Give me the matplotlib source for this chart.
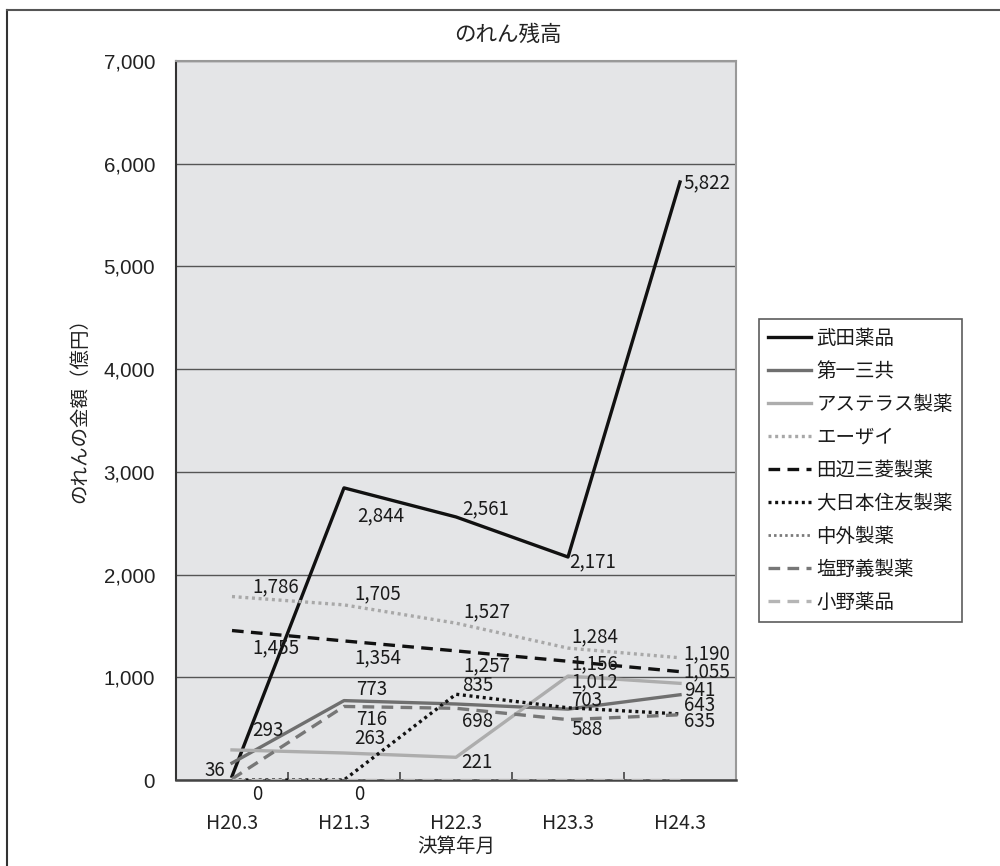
import matplotlib
matplotlib.use('Agg')
import matplotlib.pyplot as plt
from matplotlib.lines import Line2D

plt.rcParams['font.family'] = ['Noto Sans CJK JP', 'DejaVu Sans']

# data (億円)
periods = ['H20.3', 'H21.3', 'H22.3', 'H23.3', 'H24.3']
takeda = [36, 2844, 2561, 2171, 5822]
daiichi = [165, 773, 740, 690, 830]
astellas = [293, 263, 221, 1012, 941]
eisai = [1786, 1705, 1527, 1284, 1190]
tanabe = [1455, 1354, 1257, 1156, 1055]
dainippon = [0, 0, 835, 703, 643]
chugai = [0, 0, 0, 0, 0]
shionogi = [10, 716, 698, 588, 635]
ono = [0, 0, 0, 0, 0]

names = ['武田薬品', '第一三共', 'アステラス製薬', 'エーザイ', '田辺三菱製薬',
         '大日本住友製薬', '中外製薬', '塩野義製薬', '小野薬品']
values = [takeda, daiichi, astellas, eisai, tanabe, dainippon, chugai, shionogi, ono]

DOT = (0, (0.9, 1.1))
DASH = (0, (3.5, 2.2))
styles = [
    dict(color='#111111', ls='-', lw=2.4),
    dict(color='#6f6f6f', ls='-', lw=2.4),
    dict(color='#adadad', ls='-', lw=2.4),
    dict(color='#a8a8a8', ls=DOT, lw=2.4),
    dict(color='#111111', ls=DASH, lw=2.4),
    dict(color='#111111', ls=DOT, lw=2.4),
    dict(color='#7a7a7a', ls=DOT, lw=2.0),
    dict(color='#777777', ls=DASH, lw=2.4),
    dict(color='#b5b5b5', ls=DASH, lw=2.4),
]

# which data labels are shown: series index -> [(point index, dx px, dy px)]
label_offsets = {
    0: [(0, -17, -6), (1, 37, 28), (2, 30, -8), (3, 25, 5), (4, 27, 1)],
    1: [(1, 28, -11)],
    2: [(0, 36, -19), (1, 26, -14), (2, 21, 5), (3, 27, 6), (4, 20, 7)],
    3: [(0, 44, -10), (1, 34, -11), (2, 31, -11), (3, 27, -11), (4, 27, -4)],
    4: [(0, 44, 17), (1, 34, 17), (2, 31, 15), (3, 27, 3), (4, 27, 0)],
    5: [(0, 25, 14), (1, 15, 14), (2, 22, -9), (3, 19, -7), (4, 20, -8)],
    7: [(1, 28, 13), (2, 22, 13), (3, 19, 10), (4, 20, 7)],
}

fig = plt.figure(figsize=(10, 8.66), dpi=100)
W, H = 1000, 866
ax = fig.add_axes([176 / W, 1 - 780 / H, (736 - 176) / W, (780 - 61) / H])
ax.set_facecolor('#e4e5e7')

x = list(range(len(periods)))
for i, (name, vals) in enumerate(zip(names, values)):
    st = styles[i]
    ax.plot(x, vals, color=st['color'], linestyle=st['ls'], linewidth=st['lw'],
            label=name, zorder=3)

for i, lst in label_offsets.items():
    for j, dx, dy in lst:
        ax.annotate(f'{values[i][j]:,}', (x[j], values[i][j]), xytext=(dx, -dy),
                    textcoords='offset pixels', ha='center', va='center',
                    fontsize=13.5, color='#1a1a1a', zorder=5)

ax.set_xlim(-0.5, 4.5)
ax.set_ylim(0, 7000)
ax.set_yticks(range(0, 7001, 1000))
ax.set_yticklabels([f'{v:,}' for v in range(0, 7001, 1000)],
                   fontfamily='Liberation Sans', fontsize=14.8, color='#222222')
ax.tick_params(axis='y', length=0, pad=15)
ax.set_xticks(x)
ax.set_xticklabels(periods, fontsize=14, color='#222222')
ax.set_xticks([0.5, 1.5, 2.5, 3.5], minor=True)
ax.tick_params(axis='x', which='major', length=0, pad=24)
ax.tick_params(axis='x', which='minor', direction='in', length=6, width=1.2, color='#444444')
ax.yaxis.grid(True, color='#555555', linewidth=1.0)
ax.set_axisbelow(True)

ax.spines['left'].set_color('#333333')
ax.spines['left'].set_linewidth(1.5)
ax.spines['bottom'].set_color('#444444')
ax.spines['bottom'].set_linewidth(1.8)
for s in ('top', 'right'):
    ax.spines[s].set_color('#999999')
    ax.spines[s].set_linewidth(1.5)

fig.text(508 / W, 1 - 35 / H, 'のれん残高', ha='center', va='center', fontsize=15.5,
         color='#222222')
fig.text(80 / W, 1 - 406 / H, 'のれんの金額（億円）', ha='center', va='center',
         rotation=90, fontsize=14, color='#222222')
fig.text(456 / W, 1 - 846 / H, '決算年月', ha='center', va='center', fontsize=14,
         color='#222222')

leg = fig.legend(loc='upper left', bbox_to_anchor=(759 / W, 1 - 319 / H),
                 bbox_transform=fig.transFigure, fontsize=14, frameon=True,
                 fancybox=False, borderaxespad=0, borderpad=0.45, handlelength=2.2,
                 handletextpad=0.3, labelspacing=0.62)
leg.get_frame().set_edgecolor('#333333')
leg.get_frame().set_linewidth(1.2)
for t in leg.get_texts():
    t.set_color('#1a1a1a')

# outer chart frame (top and left edges visible)
fig.add_artist(Line2D([7 / W, 7 / W], [0, 1 - 10 / H], transform=fig.transFigure,
                      color='#333333', linewidth=1.5))
fig.add_artist(Line2D([7 / W, 1], [1 - 10 / H, 1 - 10 / H], transform=fig.transFigure,
                      color='#555555', linewidth=1.5))

fig.savefig('out.png', dpi=100)
